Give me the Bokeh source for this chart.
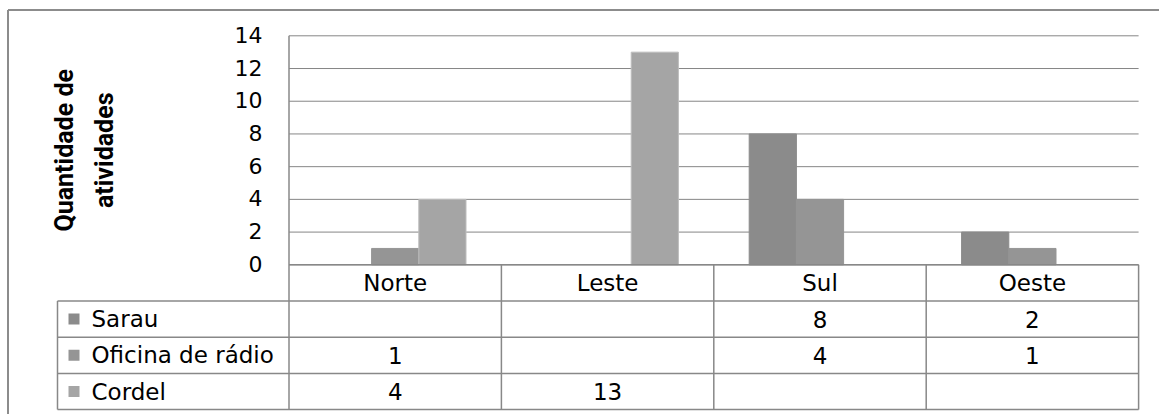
import math
from bokeh.plotting import figure
from bokeh.models import Range1d
from bokeh.core.properties import value
from bokeh.embed import file_html
from bokeh.resources import INLINE

# ---- data ----
categories = ["Norte", "Leste", "Sul", "Oeste"]
series_names = ["Sarau", "Oficina de rádio", "Cordel"]
sarau = [None, None, 8, 2]
oficina = [1, None, 4, 1]
cordel = [4, 13, None, None]
y_ticks = [0, 2, 4, 6, 8, 10, 12, 14]
y_label_lines = ["Quantidade de", "atividades"]

series_values = [sarau, oficina, cordel]
series_colors = ["#8b8b8b", "#959595", "#a5a5a5"]

# ---- layout constants (pixel geometry) ----
W, H = 1159, 414
X0, XU = 288.5, 212.4      # pixel of x=0, pixels per category
Y0, YU = 264.3, 16.357     # pixel of y=0, pixels per unit
ROW = 36.2                 # table row height, px
TABLE_LEFT_PX = 57.0

def dx(px):
    return (px - X0) / XU

def dy(py):
    return (Y0 - py) / YU

p = figure(width=W, height=H, output_backend="svg", toolbar_location=None,
           x_range=Range1d(dx(0), dx(W)), y_range=Range1d(dy(H), dy(0)),
           min_border=0)
p.axis.visible = False
p.grid.visible = False
p.outline_line_color = None
p.background_fill_color = "white"
p.border_fill_color = "white"

line_col = "#888888"
font = value("DejaVu Sans")
ncat = len(categories)

# outer border (left and top)
p.segment(x0=[dx(7.5), dx(7.5)], y0=[dy(9.5), dy(9.5)],
          x1=[dx(7.5), dx(W)], y1=[dy(H), dy(9.5)],
          line_color="#8c8c8c", line_width=2)

# gridlines
p.segment(x0=[0] * len(y_ticks), x1=[ncat] * len(y_ticks),
          y0=y_ticks, y1=y_ticks, line_color="#868686", line_width=1)

# bars
nser = len(series_names)
gap = 1.5
w = 1.0 / (nser + gap)
for j, (vals, col) in enumerate(zip(series_values, series_colors)):
    xs, tops = [], []
    for i, v in enumerate(vals):
        if v is None:
            continue
        xs.append(i + 0.5 + (j - (nser - 1) / 2) * w)
        tops.append(v)
    p.vbar(x=xs, top=tops, bottom=0, width=w, fill_color=col,
           line_color=col if j < 2 else "#bdbdbd", line_width=1)

# y tick labels
p.text(x=[dx(262)] * len(y_ticks), y=y_ticks, text=[str(t) for t in y_ticks],
       text_font=font, text_font_size="22px", text_align="right",
       text_baseline="middle", text_color="#000000", y_offset=-1)

# y-axis title (rotated, two lines)
mid_y = (max(y_ticks) + 0) / 2
p.text(x=[dx(64), dx(104)], y=[mid_y, mid_y], text=y_label_lines,
       angle=math.pi / 2, text_font=value("Roboto"), text_font_style="bold",
       text_font_size="25px", text_align="center", text_baseline="alphabetic",
       text_color="#000000")

# data table
nrows = 1 + nser
row_y = [dy(Y0 + k * ROW) for k in range(nrows + 1)]  # boundaries
tl = dx(TABLE_LEFT_PX)
# horizontal lines
hx0 = [0] + [tl] * nrows
hx1 = [ncat] * (nrows + 1)
p.segment(x0=hx0, x1=hx1, y0=row_y, y1=row_y, line_color=line_col, line_width=1.5)
# vertical lines
vx = [tl] + list(range(ncat + 1))
vy0 = [row_y[1]] + [max(y_ticks)] + [0] * ncat
vy1 = [row_y[-1]] * (ncat + 2)
p.segment(x0=vx, x1=vx, y0=vy0, y1=vy1, line_color=line_col, line_width=1.5)

# header row
row_c = [(row_y[k] + row_y[k + 1]) / 2 for k in range(nrows)]
p.text(x=[i + 0.5 for i in range(ncat)], y=[row_c[0]] * ncat, text=categories,
       text_font=font, text_font_size="23px", text_align="center",
       text_baseline="middle", text_color="#000000")

# series rows
for j, (name, vals, col) in enumerate(zip(series_names, series_values, series_colors)):
    yc = row_c[j + 1]
    p.rect(x=[dx(73.5)], y=[yc], width=11 / XU, height=11 / YU,
           fill_color=col, line_color=None)
    p.text(x=[dx(91)], y=[yc], text=[name], text_font=font,
           text_font_size="23px", text_align="left", text_baseline="middle",
           text_color="#000000")
    xs = [i + 0.5 for i, v in enumerate(vals) if v is not None]
    ts = [str(v) for v in vals if v is not None]
    p.text(x=xs, y=[yc] * len(xs), text=ts, text_font=font,
           text_font_size="23px", text_align="center", text_baseline="middle",
           text_color="#000000")

open("out.html", "w").write(file_html(p, INLINE))
